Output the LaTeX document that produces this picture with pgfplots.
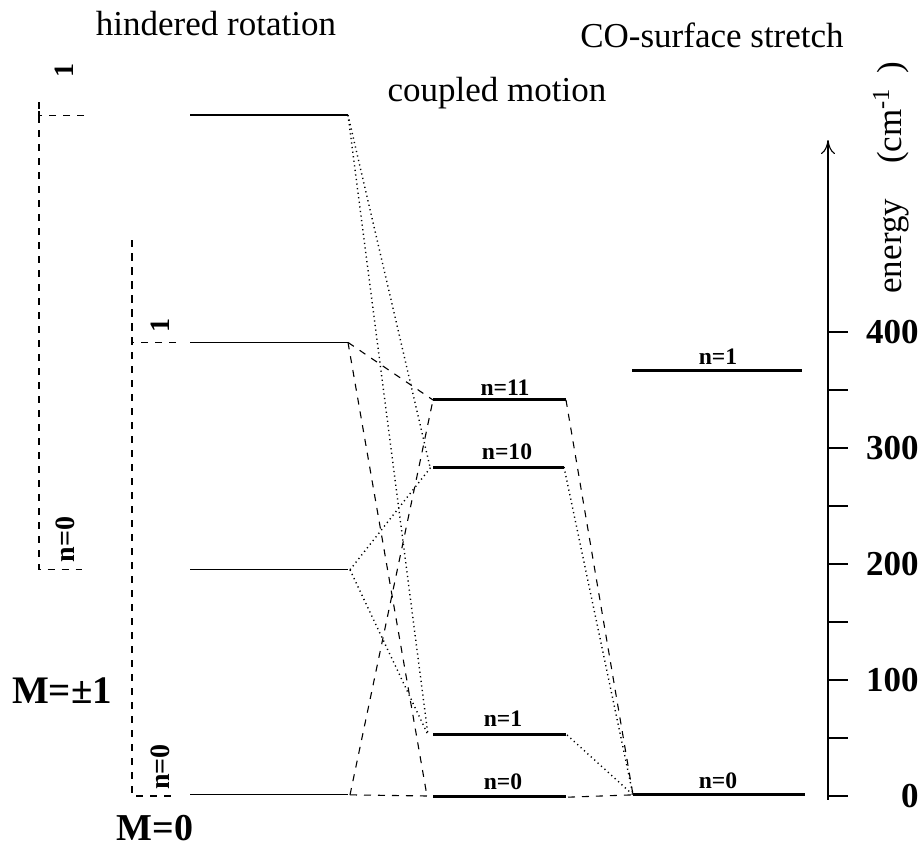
\documentclass[border=0pt]{standalone}
\usepackage{fontspec}
\setmainfont{Liberation Serif}
\usepackage{pgfplots}
\pgfplotsset{compat=1.18}
\usetikzlibrary{arrows.meta}

% level styles
\pgfplotsset{
  lvl/.style={black, line width=0.6pt},
  thk/.style={black, line width=1.5pt},
  dsh/.style={black, line width=0.55pt, dash pattern=on 3.5pt off 3.5pt},
  dtt/.style={black, line width=0.7pt, dash pattern=on 0.6pt off 1.7pt},
}
\newcommand{\ttl}{\fontsize{17.5}{20}\selectfont}
\newcommand{\lbl}{\bfseries\fontsize{11.8}{13}\selectfont}
\newcommand{\rlbl}{\bfseries\fontsize{14}{16}\selectfont}

\begin{document}
\begin{tikzpicture}
\begin{axis}[
  width=461pt, height=419pt, scale only axis,
  xmin=0, xmax=922, ymin=-36.2, ymax=686.2,
  hide axis, clip=false,
]
\path (rel axis cs:0,0) rectangle (rel axis cs:1,1);

% M=+-1 box
\addplot[dsh] coordinates {(84,587) (39,587) (39,598)};
\addplot[dsh] coordinates {(39,598) (39,195) (82,195)};
% M=0 box
\addplot[dsh] coordinates {(176,391) (132,391) (132,479)};
\addplot[dsh] coordinates {(132,479) (132,0) (172,0)};

% hindered rotation levels
\addplot[lvl] coordinates {(190,587) (348,587)};
\addplot[lvl] coordinates {(190,391) (348,391)};
\addplot[lvl] coordinates {(190,195) (348,195)};
\addplot[lvl] coordinates {(190,1) (348,1)};

% coupled motion levels
\addplot[thk] coordinates {(433,341.4) (566,341.4)};
\addplot[thk] coordinates {(433,283.6) (564,283.6)};
\addplot[thk] coordinates {(433,52.6) (566,52.6)};
\addplot[thk] coordinates {(433,0) (566,0)};

% CO-surface stretch levels
\addplot[thk] coordinates {(632,367) (802,367)};
\addplot[thk] coordinates {(633,1) (805,1)};

% correlations, left
\addplot[dtt] coordinates {(348,587) (428,52.6)};
\addplot[dtt] coordinates {(348,587) (430,283.6)};
\addplot[dtt] coordinates {(350,195) (431,283.6)};
\addplot[dtt] coordinates {(350,195) (428,52.6)};
\addplot[dsh] coordinates {(348,391) (433,341.4)};
\addplot[dsh] coordinates {(348,391) (427,0)};
\addplot[dsh] coordinates {(350,1) (433,341.4)};
\addplot[dsh] coordinates {(350,1) (428,0)};
% correlations, right
\addplot[dsh] coordinates {(566,341.4) (633,1)};
\addplot[dtt] coordinates {(564,283.6) (633,1)};
\addplot[dtt] coordinates {(567,52.6) (633,1)};
\addplot[dsh] coordinates {(568,-1) (633,1)};

% energy axis
\draw[-{To[length=7pt,width=7pt]}, line width=0.55pt] (axis cs:828,-3.4) -- (axis cs:828,565.5);
\pgfplotsinvokeforeach{0,50,...,400}{
  \draw[line width=0.55pt] (axis cs:828,#1) -- (axis cs:848,#1);
}
\pgfplotsinvokeforeach{0,100,...,400}{
  \node[anchor=east, font=\bfseries\fontsize{17.5}{20}\selectfont, inner sep=0pt] at (axis cs:919,#1) {#1};
}
\node[rotate=90, font=\ttl] at (axis cs:891,533) {energy\quad(cm\textsuperscript{-1}\ \,)};

% titles
\node[font=\ttl] at (axis cs:216,666) {hindered rotation};
\node[font=\ttl] at (axis cs:712,656) {CO-surface stretch};
\node[font=\ttl] at (axis cs:497,606) {coupled motion};

% M labels
\node[font=\bfseries\fontsize{19.5}{21}\selectfont] at (axis cs:62,91) {M=±1};
\node[font=\bfseries\fontsize{19}{21}\selectfont] at (axis cs:155,-27.6) {M=0};

% rotated quantum numbers
\node[rotate=90, font=\rlbl] at (axis cs:64,625) {1};
\node[rotate=90, font=\rlbl] at (axis cs:65,221) {n=0};
\node[rotate=90, font=\rlbl] at (axis cs:160,406) {1};
\node[rotate=90, font=\rlbl] at (axis cs:160,25) {n=0};

% level labels
\node[font=\lbl] at (axis cs:505,352) {n=11};
\node[font=\lbl] at (axis cs:507,296.5) {n=10};
\node[font=\lbl] at (axis cs:503,67) {n=1};
\node[font=\lbl] at (axis cs:503,12) {n=0};
\node[font=\lbl] at (axis cs:718,379) {n=1};
\node[font=\lbl] at (axis cs:718,13.5) {n=0};
\end{axis}
\end{tikzpicture}
\end{document}
